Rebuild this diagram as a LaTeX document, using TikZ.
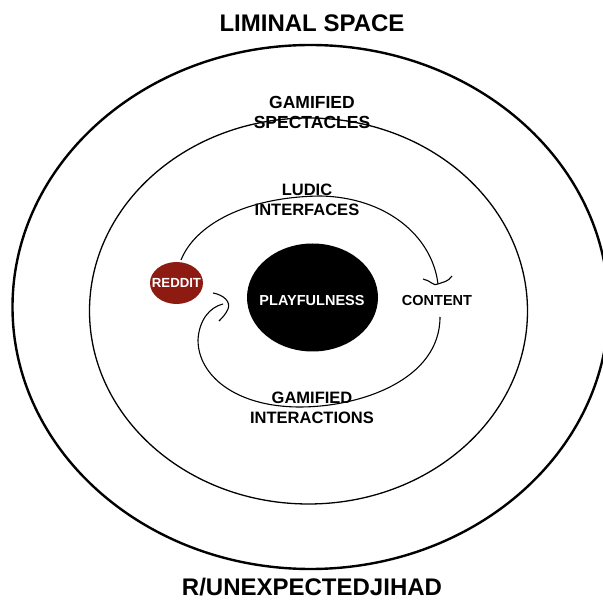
\documentclass[tikz,border=0pt]{standalone}
\usepackage{fontspec}
\setmainfont{Liberation Sans}
\usetikzlibrary{shapes.geometric}
\definecolor{redditred}{HTML}{8E1B12}
\tikzset{
  big/.style={inner sep=0pt, font=\fontsize{24}{28}\selectfont\bfseries},
  lbl/.style={inner sep=0pt, align=center, font=\fontsize{16.5}{20}\selectfont\bfseries},
  small/.style={inner sep=0pt, font=\fontsize{14.5}{17}\selectfont\bfseries},
  ring/.style={draw=black, line width=1.3pt},
  flow/.style={draw=black, line width=1.1pt},
}
\begin{document}
\begin{tikzpicture}[x=1pt,y=-1pt]
\useasboundingbox (0,0) rectangle (603,601);
\fill[white] (0,0) rectangle (603,601);
% rings
\draw[draw=black, line width=2.4pt] (310.5,307) ellipse [x radius=298pt, y radius=262pt];
\draw[ring] (308.5,311) ellipse [x radius=219pt, y radius=193pt];
% core
\node[ellipse, fill=black, inner sep=0pt, minimum width=131pt, minimum height=108pt] (play) at (312.5,297.5) {};
\node[small, text=white] (playtxt) at (312,301) {PLAYFULNESS};
\node[ellipse, fill=redditred, inner sep=0pt, minimum width=53pt, minimum height=42pt] (reddit) at (176.5,283) {};
\node[inner sep=0pt, text=white, font=\fontsize{13.2}{16}\selectfont\bfseries] (reddittxt) at (176.5,283) {REDDIT};
\node[small] (content) at (437,301) {CONTENT};
% labels
\node[big] (liminal) at (312,23) {LIMINAL SPACE};
\node[big] (sub) at (312,587) {R/UNEXPECTEDJIHAD};
\node[lbl, font=\fontsize{17.5}{20}\selectfont\bfseries] (spect) at (312,112) {GAMIFIED\\SPECTACLES};
\node[lbl] (ludic) at (307,200) {LUDIC\\INTERFACES};
\node[lbl] (inter) at (312,408) {GAMIFIED\\INTERACTIONS};
% connector coordinates
\coordinate (rTop) at (181,260);
\coordinate (cTop) at (438,284);
\coordinate (cBot) at (440,317);
\coordinate (rHook) at (223,304);
% upper arc: reddit -> content
\draw[flow] (rTop) .. controls (195,225) and (245,197) .. (320,196)
  .. controls (385,197) and (432,235) .. (cTop);
\draw[flow] (423,279) .. controls (430,280) and (434,287) .. (cTop)
  .. controls (443,282) and (448,282) .. (452,276);
% lower arc: content -> reddit
\draw[flow] (cBot) .. controls (440,380) and (360,407) .. (300,407)
  .. controls (235,407) and (198,375) .. (198,340)
  .. controls (199,320) and (210,307) .. (rHook);
\draw[flow] (213,293) .. controls (224,295) and (231,302) .. (228,309)
  .. controls (226,314) and (222,318) .. (219,321);
\end{tikzpicture}
\end{document}
